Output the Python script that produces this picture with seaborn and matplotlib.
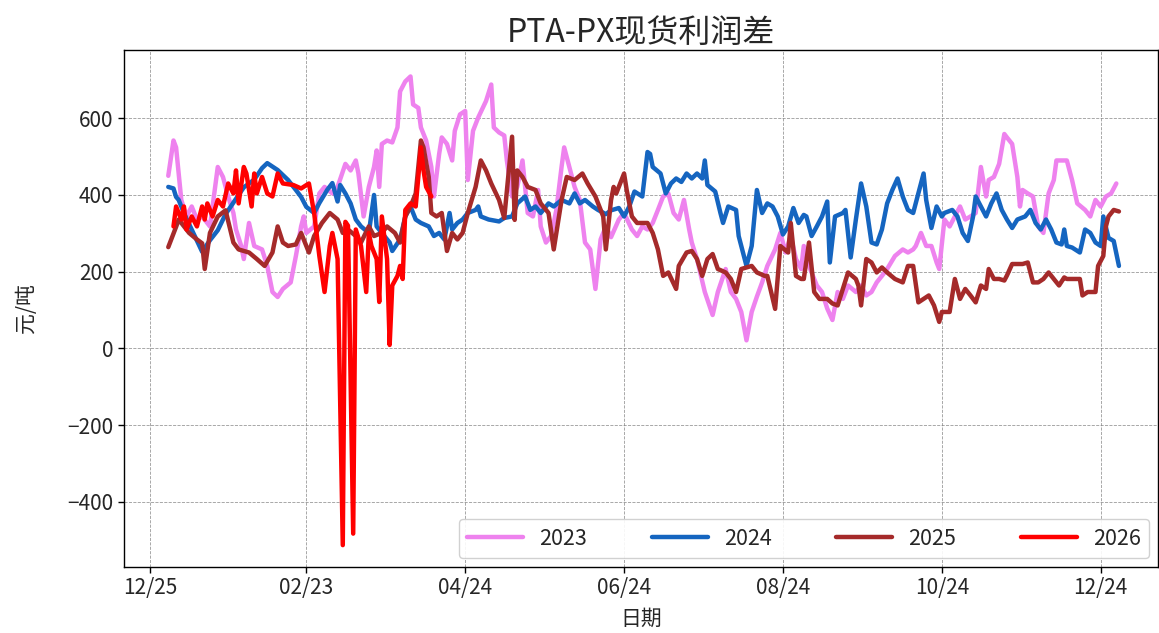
import numpy as np
import pandas as pd
import matplotlib
matplotlib.use("Agg")
import matplotlib.pyplot as plt
import matplotlib.dates as mdates
import seaborn as sns

# ---------------- data (day offset from Jan 1, value in 元/吨) ----------------
days_2023 = [0, 2, 3, 5, 7, 9, 11, 13, 16, 19, 21, 23, 25, 26, 28, 29, 31, 33, 36, 38, 40, 42, 44, 47, 49, 51, 52, 53,
             56, 58, 60, 63, 65, 68, 70, 72, 73, 75, 77, 79, 80, 81, 82, 84, 86, 88, 89, 91, 93, 94, 96, 97, 99, 101,
             102, 104, 105, 107, 109, 110, 112, 114, 115, 117, 119, 122, 124, 125, 127, 129, 130, 132, 134, 136, 138,
             140, 142, 143, 145, 147, 149, 151, 152, 154, 156, 158, 160, 162, 164, 166, 168, 170, 173, 175, 178, 180,
             182, 184, 186, 188, 190, 192, 194, 196, 198, 200, 201, 203, 206, 209, 211, 214, 216, 218, 220, 222, 224,
             226, 228, 230, 233, 235, 237, 239, 241, 243, 244, 246, 249, 251, 253, 255, 257, 259, 261, 264, 266, 268,
             270, 272, 274, 276, 279, 282, 284, 286, 287, 289, 291, 293, 295, 296, 298, 300, 302, 304, 306, 308, 310,
             312, 314, 315, 317, 319, 321, 322, 324, 326, 327, 328, 330, 332, 334, 336, 338, 340, 341, 344, 345, 347,
             349, 352, 354, 356, 358, 360, 362, 364]
vals_2023 = [450, 542, 524, 387, 344, 370, 336, 344, 318, 473, 447, 396, 353, 310, 267, 233, 327, 267, 258, 215, 147,
             134, 155, 172, 241, 318, 344, 301, 318, 404, 421, 404, 421, 481, 464, 490, 456, 344, 421, 473, 516, 421,
             533, 542, 537, 576, 670, 696, 709, 636, 627, 576, 542, 473, 396, 507, 550, 533, 490, 567, 610, 619, 439,
             567, 602, 645, 688, 576, 563, 555, 490, 396, 421, 490, 353, 344, 413, 318, 276, 293, 361, 473, 524, 473,
             421, 387, 276, 258, 155, 284, 318, 290, 336, 353, 310, 293, 318, 310, 327, 361, 396, 404, 353, 336, 387,
             310, 276, 233, 147, 87, 147, 207, 147, 129, 95, 21, 95, 135, 172, 215, 258, 301, 250, 293, 233, 207, 267,
             215, 164, 147, 104, 74, 147, 129, 164, 147, 164, 138, 147, 172, 189, 207, 241, 258, 250, 258, 267, 301,
             267, 267, 224, 207, 336, 318, 344, 370, 336, 344, 353, 473, 396, 439, 447, 481, 559, 550, 533, 447, 370,
             413, 404, 396, 318, 301, 404, 439, 490, 490, 490, 439, 378, 361, 344, 387, 370, 396, 404, 430]

days_2024 = [0, 2, 3, 4, 6, 9, 12, 13, 16, 19, 22, 26, 29, 33, 36, 38, 42, 46, 49, 51, 53, 56, 58, 61, 63, 65, 66, 68,
             70, 72, 74, 77, 79, 80, 82, 85, 86, 89, 91, 93, 95, 97, 100, 102, 104, 106, 108, 109, 111, 113, 115, 118,
             119, 120, 123, 127, 129, 132, 134, 137, 139, 141, 143, 146, 148, 151, 154, 156, 158, 160, 163, 165, 168,
             170, 173, 175, 177, 179, 182, 184, 185, 186, 189, 191, 193, 195, 197, 199, 201, 203, 205, 206, 207, 210,
             212, 213, 215, 218, 219, 220, 222, 224, 226, 228, 230, 232, 234, 236, 238, 240, 242, 244, 245, 247, 249,
             251, 253, 254, 256, 259, 260, 262, 264, 266, 268, 270, 272, 274, 276, 278, 280, 282, 284, 286, 288, 290,
             291, 293, 295, 297, 298, 301, 303, 305, 307, 309, 310, 312, 314, 316, 318, 320, 322, 324, 326, 329, 331,
             333, 335, 337, 339, 341, 343, 344, 345, 347, 350, 352, 354, 356, 358, 359, 361, 363, 365]
vals_2024 = [421, 417, 395, 387, 353, 310, 267, 252, 282, 308, 350, 390, 420, 440, 470, 483, 465, 439, 413, 395, 369,
             353, 379, 413, 431, 383, 426, 404, 378, 336, 318, 301, 400, 318, 301, 276, 254, 284, 344, 370, 336, 327,
             318, 293, 301, 284, 353, 310, 327, 336, 353, 361, 370, 344, 336, 331, 340, 344, 378, 396, 361, 370, 353,
             378, 370, 387, 378, 404, 378, 387, 370, 361, 350, 360, 366, 344, 370, 409, 396, 512, 507, 473, 456, 404,
             430, 443, 434, 456, 443, 456, 443, 490, 426, 409, 353, 327, 370, 361, 293, 267, 215, 267, 413, 353, 378,
             370, 344, 297, 318, 366, 327, 348, 344, 293, 318, 344, 383, 224, 344, 353, 361, 237, 336, 430, 370, 276,
             271, 310, 378, 413, 443, 396, 361, 353, 404, 456, 387, 314, 370, 344, 353, 361, 344, 301, 280, 344, 396,
             370, 344, 378, 404, 361, 336, 314, 336, 344, 361, 327, 310, 336, 310, 276, 271, 310, 267, 263, 250, 310,
             301, 276, 267, 344, 288, 280, 215]

days_2025 = [0, 3, 4, 8, 11, 13, 14, 16, 19, 22, 25, 27, 31, 34, 37, 40, 42, 44, 46, 49, 51, 53, 54, 56, 59, 62, 65,
             67, 69, 72, 74, 77, 79, 82, 84, 87, 89, 91, 93, 95, 97, 98, 100, 101, 103, 105, 107, 109, 111, 113, 115,
             118, 120, 122, 124, 127, 129, 132, 133, 134, 136, 138, 141, 143, 146, 148, 151, 153, 156, 159, 161, 164,
             167, 168, 170, 171, 172, 175, 176, 178, 180, 184, 186, 188, 190, 192, 195, 196, 199, 201, 203, 205, 207,
             209, 211, 214, 216, 218, 220, 224, 226, 229, 230, 233, 235, 238, 239, 241, 243, 244, 246, 248, 250, 253,
             255, 257, 259, 261, 264, 265, 266, 268, 270, 272, 274, 276, 279, 282, 284, 286, 288, 290, 292, 294, 296,
             297, 300, 302, 304, 306, 308, 310, 312, 314, 315, 317, 319, 321, 322, 324, 326, 328, 330, 332, 334, 336,
             338, 340, 342, 344, 345, 348, 350, 351, 353, 356, 357, 359, 360, 361, 363, 365]
vals_2025 = [264, 317, 336, 301, 284, 274, 207, 301, 344, 360, 276, 258, 250, 233, 215, 250, 318, 276, 267, 271, 301,
             267, 250, 293, 327, 353, 336, 301, 310, 293, 276, 318, 293, 301, 318, 301, 276, 344, 370, 404, 542, 524,
             447, 353, 344, 353, 254, 301, 284, 301, 353, 421, 490, 464, 430, 387, 340, 552, 335, 464, 447, 421, 413,
             378, 353, 258, 387, 447, 439, 456, 430, 396, 344, 258, 387, 421, 404, 456, 413, 344, 327, 327, 301, 258,
             189, 198, 155, 215, 250, 254, 233, 189, 233, 246, 207, 198, 181, 147, 207, 215, 198, 189, 189, 103, 267,
             250, 327, 189, 181, 181, 276, 147, 129, 129, 117, 112, 155, 198, 181, 163, 112, 233, 224, 198, 211, 198,
             181, 172, 215, 215, 120, 129, 138, 112, 69, 95, 95, 181, 129, 155, 138, 120, 164, 155, 207, 181, 181,
             177, 190, 220, 220, 220, 224, 172, 172, 181, 198, 181, 164, 185, 181, 181, 181, 138, 147, 147, 215, 241,
             318, 344, 361, 357]

days_2026 = [2, 3, 5, 6, 7, 9, 11, 13, 14, 15, 17, 19, 21, 23, 25, 26, 27, 29, 30, 32, 33, 34, 36, 38, 40, 42, 44,
             48, 51, 54, 56, 58, 60, 62, 63, 65, 67, 68, 69, 71, 72, 74, 76, 77, 78, 80, 81, 82, 84, 85, 86, 88, 89,
             90, 91, 93, 95, 97, 98, 99, 101]
vals_2026 = [318, 370, 336, 370, 310, 344, 318, 370, 336, 378, 344, 387, 370, 430, 404, 464, 378, 473, 456, 370, 456,
             404, 447, 404, 396, 456, 430, 426, 417, 430, 353, 241, 147, 267, 301, 233, -513, 330, 320, -483, 310, 267,
             147, 301, 267, 233, 121, 344, 233, 9, 164, 189, 215, 181, 361, 378, 370, 524, 464, 421, 396]

years = ["2023", "2024", "2025", "2026"]
colors = ["violet", "#1565c0", "brown", "red"]
tick_dates = ["1999-12-25", "2000-02-23", "2000-04-24", "2000-06-24", "2000-08-24", "2000-10-24", "2000-12-24"]

series_days = [days_2023, days_2024, days_2025, days_2026]
series_vals = [vals_2023, vals_2024, vals_2025, vals_2026]

frames = []
for yr, d, v in zip(years, series_days, series_vals):
    frames.append(pd.DataFrame({"day": d, "value": v, "year": yr}))
df = pd.concat(frames, ignore_index=True)
df["date"] = pd.Timestamp("2000-01-01") + pd.to_timedelta(df["day"], unit="D")

# ---------------- style ----------------
sns.set_style("ticks")
plt.rcParams["font.family"] = ["Noto Sans CJK SC", "DejaVu Sans"]
plt.rcParams["axes.unicode_minus"] = True

W, H = 1159, 633
fig = plt.figure(figsize=(W / 100, H / 100), dpi=100)
ax = fig.add_axes([124 / W, 1 - 567 / H, (1158 - 124) / W, (567 - 50) / H])

palette = dict(zip(years, colors))
sns.lineplot(data=df, x="date", y="value", hue="year", hue_order=years, palette=palette,
             estimator=None, linewidth=3.2, ax=ax)

ax.set_xlim(pd.Timestamp("1999-12-15"), pd.Timestamp("2001-01-15"))
ax.set_ylim(-570, 778)
ax.set_xticks(pd.to_datetime(tick_dates))
ax.xaxis.set_major_formatter(mdates.DateFormatter("%m/%d"))
ax.set_yticks([-400, -200, 0, 200, 400, 600])
ax.tick_params(axis="both", labelsize=15, length=4, width=1, color="black")
ax.grid(True, linestyle="--", color="gray", linewidth=0.6, alpha=0.8)
for sp in ax.spines.values():
    sp.set_color("black")
    sp.set_linewidth(1.0)

ax.set_title("PTA-PX现货利润差", fontsize=23, pad=6)
ax.set_xlabel("日期", fontsize=15, labelpad=6)
ax.set_ylabel("元/吨", fontsize=15, labelpad=22)

old = ax.get_legend()
handles = old.legend_handles
labels = [t.get_text() for t in old.get_texts()]
old.remove()
for h in handles:
    h.set_linewidth(3.2)
ax.legend(handles, labels, loc="lower right", ncol=4, fontsize=15.5, handlelength=2.6,
          columnspacing=3.0, handletextpad=0.75, frameon=True, fancybox=True,
          edgecolor="0.8", framealpha=0.9, borderaxespad=0.4)

fig.savefig("out.png", dpi=100)
